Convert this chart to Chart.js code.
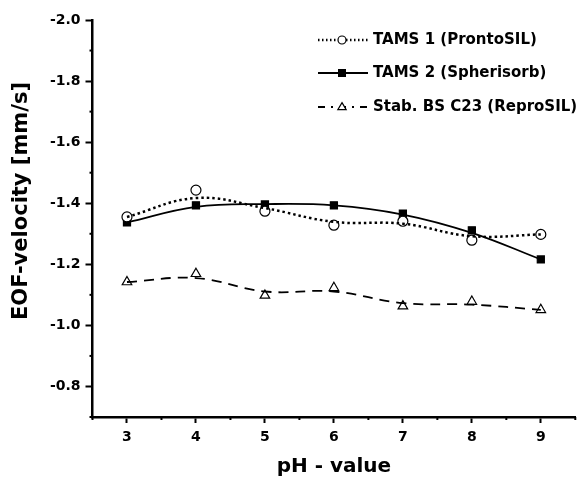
<!DOCTYPE html>
<html>
<head>
<meta charset="utf-8">
<script src="https://cdn.jsdelivr.net/npm/chart.js"></script>
<style>
  body { margin: 0; background: #fff; }
  #wrap { width: 582px; height: 487px; position: relative; }
</style>
</head>
<body>
<div id="wrap"><canvas id="eof"></canvas></div>
<script>
// pH values (x)
const phValues = [3, 4, 5, 6, 7, 8, 9];

const tams1Points = [-1.355, -1.443, -1.374, -1.328, -1.341, -1.279, -1.298];
const tams2Points = [-1.337, -1.393, -1.396, -1.393, -1.366, -1.311, -1.216];
const stabPoints  = [-1.142, -1.169, -1.098, -1.123, -1.063, -1.078, -1.051];

// smoothed curves read at each pH
const tams1Curve = [-1.355, -1.417, -1.384, -1.339, -1.333, -1.292, -1.298];
const tams2Curve = [-1.337, -1.388, -1.397, -1.393, -1.363, -1.303, -1.216];
const stabCurve  = [-1.142, -1.155, -1.111, -1.111, -1.073, -1.068, -1.051];

const seriesNames = ["TAMS 1 (ProntoSIL)", "TAMS 2 (Spherisorb)", "Stab. BS C23 (ReproSIL)"];
const yTitle = "EOF-velocity [mm/s]";

const FONT = "'DejaVu Sans', sans-serif";

function xy(ys) { return phValues.map((x, i) => ({ x: x, y: ys[i] })); }

// line style + marker per series
const styles = [
  { dash: [2.5, 3], legendDash: [1.5, 2.5], width: 2.5, marker: 'circle', fill: '#fff', r: 5 },
  { dash: [], legendDash: [], width: 1.8, marker: 'rect', fill: '#000', r: 5 },
  { dash: [10, 7], legendDash: [7, 6, 2, 6], width: 1.8, marker: 'triangle', fill: '#fff', r: 5.5 }
];

function drawMarker(ctx, kind, x, y, r, fill) {
  ctx.save();
  ctx.setLineDash([]);
  ctx.lineWidth = 1.2;
  ctx.strokeStyle = '#000';
  ctx.fillStyle = fill;
  ctx.beginPath();
  if (kind == 'circle') {
    ctx.arc(x, y, r, 0, Math.PI * 2);
  } else if (kind == 'rect') {
    ctx.rect(x - r * 0.85, y - r * 0.85, r * 1.7, r * 1.7);
  } else {
    ctx.moveTo(x, y - r);
    ctx.lineTo(x + r * 0.95, y + r * 0.6);
    ctx.lineTo(x - r * 0.95, y + r * 0.6);
    ctx.closePath();
  }
  ctx.fill();
  ctx.stroke();
  ctx.restore();
}

// legend drawn in top right corner, line + marker + text
const legendPlugin = {
  id: 'lineLegend',
  afterDraw(chart) {
    const ctx = chart.ctx;
    const rows = [40, 73, 107];
    ctx.save();
    seriesNames.forEach((name, i) => {
      const s = styles[i];
      const y = rows[i];
      ctx.strokeStyle = '#000';
      ctx.lineWidth = s.width;
      ctx.setLineDash(s.legendDash);
      ctx.beginPath();
      ctx.moveTo(318, y);
      ctx.lineTo(368, y);
      ctx.stroke();
      drawMarker(ctx, s.marker, 342, y, s.r * 0.8, s.fill);
      ctx.fillStyle = '#000';
      ctx.font = 'bold 15px ' + FONT;
      ctx.textBaseline = 'middle';
      ctx.fillText(name, 373, y);
    });
    // y axis title, placed a bit above the middle like the original
    ctx.translate(22, 201);
    ctx.rotate(-Math.PI / 2);
    ctx.font = 'bold 21px ' + FONT;
    ctx.textAlign = 'center';
    ctx.fillText(yTitle, 0, 0);
    ctx.restore();
  }
};

// shorter minor ticks
const minorTicks = {
  id: 'minorTicks',
  afterDraw(chart) {
    const ctx = chart.ctx;
    const xs = chart.scales.x, ys = chart.scales.y;
    ctx.save();
    ctx.strokeStyle = '#000';
    ctx.lineWidth = 2;
    xs.ticks.forEach(t => {
      if (!Number.isInteger(t.value)) {
        const px = xs.getPixelForValue(t.value);
        ctx.beginPath(); ctx.moveTo(px, xs.top); ctx.lineTo(px, xs.top + 3); ctx.stroke();
      }
    });
    ys.ticks.forEach(t => {
      if (Math.round(t.value * 10) % 2 !== 0) {
        const py = ys.getPixelForValue(t.value);
        ctx.beginPath(); ctx.moveTo(ys.right, py); ctx.lineTo(ys.right - 3, py); ctx.stroke();
      }
    });
    ctx.restore();
  }
};

const datasets = [];
[tams1Curve, tams2Curve, stabCurve].forEach((c, i) => {
  datasets.push({
    data: xy(c),
    borderColor: '#000',
    borderWidth: styles[i].width,
    borderDash: styles[i].dash,
    pointRadius: 0,
    tension: 0.4,
    fill: false
  });
});
[tams1Points, tams2Points, stabPoints].forEach((p, i) => {
  datasets.push({
    data: xy(p),
    showLine: false,
    pointStyle: styles[i].marker,
    pointRadius: styles[i].r,
    pointBackgroundColor: styles[i].fill,
    pointBorderColor: '#000',
    pointBorderWidth: 1.2
  });
});

new Chart(document.getElementById('eof'), {
  type: 'line',
  data: { datasets: datasets },
  options: {
    responsive: true,
    maintainAspectRatio: false,
    animation: false,
    layout: { padding: { top: 20, right: 2, left: 0, bottom: 0 } },
    plugins: { legend: { display: false }, tooltip: { enabled: false } },
    scales: {
      x: {
        type: 'linear',
        min: 2.5, max: 9.5,
        afterFit: s => { s.height = 70; },
        border: { color: '#000', width: 2.5 },
        grid: {
          drawOnChartArea: false, tickLength: 6, tickWidth: 2,
          tickColor: c => Number.isInteger(c.tick.value) ? '#000' : 'rgba(0,0,0,0)'
        },
        ticks: {
          stepSize: 0.5, padding: 6, color: '#000',
          font: { family: FONT, size: 14, weight: 'bold' },
          maxRotation: 0, autoSkip: false,
          callback: v => Number.isInteger(v) ? String(v) : ''
        },
        title: {
          display: true, text: 'pH - value', color: '#000',
          font: { family: FONT, size: 20, weight: 'bold' },
          padding: { top: 0, bottom: 8 }
        }
      },
      y: {
        reverse: true,
        min: -2.0, max: -0.7,
        afterFit: s => { s.width = 92.5; },
        border: { color: '#000', width: 2.5 },
        grid: {
          drawOnChartArea: false, tickLength: 7, tickWidth: 2,
          tickColor: c => Math.round(c.tick.value * 10) % 2 === 0 ? '#000' : 'rgba(0,0,0,0)'
        },
        ticks: {
          stepSize: 0.1, padding: 5, color: '#000',
          font: { family: FONT, size: 14, weight: 'bold' },
          autoSkip: false,
          callback: v => Math.round(v * 10) % 2 === 0 ? v.toFixed(1) : ''
        }
      }
    }
  },
  plugins: [legendPlugin, minorTicks]
});
</script>
</body>
</html>
